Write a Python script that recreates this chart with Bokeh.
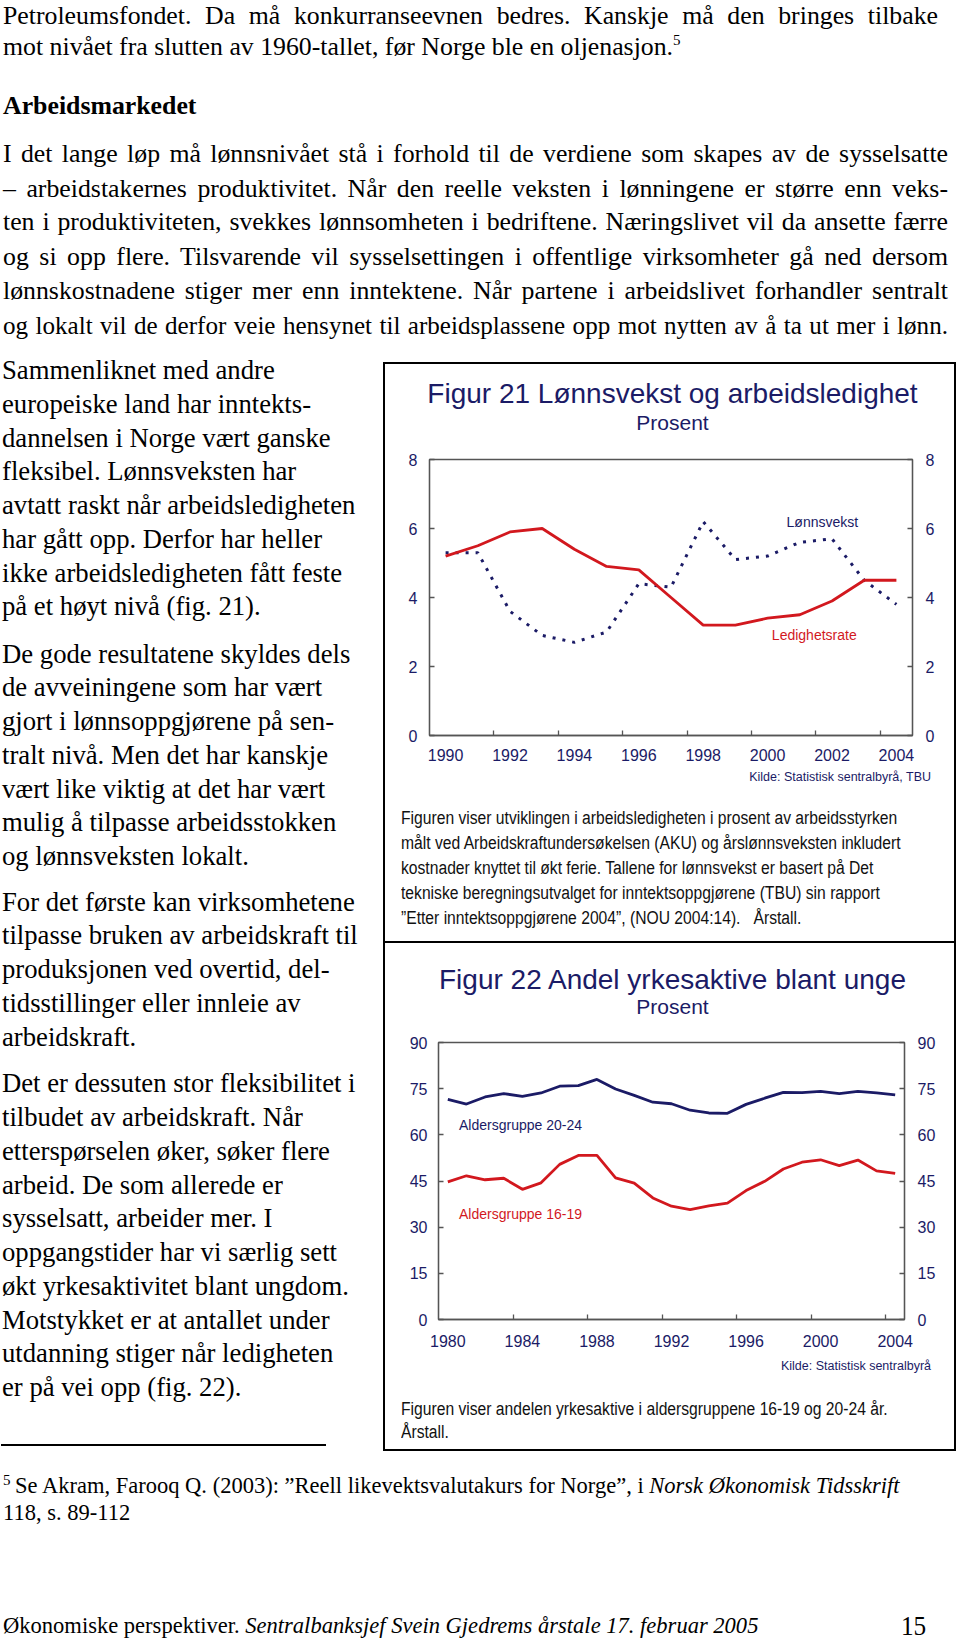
import html
from bokeh.plotting import figure
from bokeh.models import Div, LinearAxis, FixedTicker, Range1d, Label
from bokeh.layouts import column, row
from bokeh.embed import file_html
from bokeh.resources import INLINE

# ---------------- data ----------------
years_fig21 = [1990, 1991, 1992, 1993, 1994, 1995, 1996, 1997, 1998, 1999, 2000, 2001, 2002, 2003, 2004]
ledighetsrate = [5.2, 5.5, 5.9, 6.0, 5.4, 4.9, 4.8, 4.0, 3.2, 3.2, 3.4, 3.5, 3.9, 4.5, 4.5]
lonnsvekst = [5.3, 5.3, 3.6, 2.9, 2.7, 3.0, 4.4, 4.3, 6.2, 5.1, 5.2, 5.6, 5.7, 4.5, 3.8]
xlabels_fig21 = [1990, 1992, 1994, 1996, 1998, 2000, 2002, 2004]
yticks_fig21 = [0, 2, 4, 6, 8]

years_fig22 = [1980, 1981, 1982, 1983, 1984, 1985, 1986, 1987, 1988, 1989, 1990, 1991, 1992,
               1993, 1994, 1995, 1996, 1997, 1998, 1999, 2000, 2001, 2002, 2003, 2004]
aldersgruppe_20_24 = [71.5, 70.0, 72.3, 73.4, 72.5, 73.6, 75.8, 76.0, 78.0, 74.9, 72.8, 70.6, 70.1,
                      68.0, 67.1, 67.0, 69.9, 71.9, 73.8, 73.7, 74.1, 73.4, 74.1, 73.6, 73.0]
aldersgruppe_16_19 = [44.7, 46.7, 45.4, 45.9, 42.3, 44.4, 50.4, 53.3, 53.3, 46.0, 44.3, 39.5, 36.8,
                      35.7, 36.9, 37.8, 41.9, 44.9, 48.9, 51.1, 51.9, 50.0, 51.8, 48.3, 47.5]
xlabels_fig22 = [1980, 1984, 1988, 1992, 1996, 2000, 2004]
yticks_fig22 = [0, 15, 30, 45, 60, 75, 90]

NAVY = "#1b1b66"
RED = "#d2181e"
FRAME = "#555555"
SERIF = "'Liberation Serif', 'Times New Roman', serif"
SANS = "'Liberation Sans', Arial, sans-serif"
INNER = 569   # inner width of the framed chart box


# ---------------- html helpers ----------------
def esc(s):
    return html.escape(s, quote=False)


def line(content, center, size, lh, font=SERIF, left=0, scale=1.0, justify_w=None,
         color="#000", weight="normal", align=None, width=None):
    top = center - lh / 2.0
    st = (f"position:absolute;left:{left}px;top:{top:.1f}px;white-space:nowrap;"
          f"font-family:{font};font-size:{size}px;line-height:{lh}px;color:{color};"
          f"font-weight:{weight};margin:0;padding:0;")
    if scale != 1.0:
        st += f"transform:scaleX({scale});transform-origin:0 0;"
    if justify_w is not None:
        st += f"width:{justify_w / scale:.1f}px;text-align:justify;text-align-last:justify;"
    elif align is not None:
        st += f"width:{width / scale:.1f}px;text-align:{align};"
    return f'<div style="{st}">{content}</div>'


def box(inner, w, h):
    return (f'<div style="position:relative;width:{w}px;height:{h}px;margin:0;padding:0;overflow:hidden;">'
            + "".join(inner) + "</div>")


def mkdiv(inner, w, h):
    return Div(text=box(inner, w, h), width=w, height=h, margin=0)


SUP5 = '<span style="font-size:15px;position:relative;top:-10px;">5</span>'

# ---------------- top text ----------------
TS, TLH = 25.8, 32
top_items = [
    line(esc("Petroleumsfondet. Da må konkurranseevnen bedres. Kanskje må den bringes tilbake"),
         16, TS, TLH, left=3, justify_w=935),
    line(esc("mot nivået fra slutten av 1960-tallet, før Norge ble en oljenasjon.") + SUP5,
         47, TS, TLH, left=3),
    line(esc("Arbeidsmarkedet"), 106, TS, TLH, left=3, weight="bold"),
]
para_top = [
    "I det lange løp må lønnsnivået stå i forhold til de verdiene som skapes av de sysselsatte",
    "– arbeidstakernes produktivitet. Når den reelle veksten i lønningene er større enn veks-",
    "ten i produktiviteten, svekkes lønnsomheten i bedriftene. Næringslivet vil da ansette færre",
    "og si opp flere. Tilsvarende vil sysselsettingen i offentlige virksomheter gå ned dersom",
    "lønnskostnadene stiger mer enn inntektene. Når partene i arbeidslivet forhandler sentralt",
    "og lokalt vil de derfor veie hensynet til arbeidsplassene opp mot nytten av å ta ut mer i lønn.",
]
para_centers = [154, 189, 222, 257, 291, 326]
for i, (t, c) in enumerate(zip(para_top, para_centers)):
    sc = 0.972 if i == len(para_top) - 1 else 1.0
    top_items.append(line(esc(t), c, TS, TLH, left=3, scale=sc, justify_w=945))
top_div = mkdiv(top_items, 958, 345)

# ---------------- left column ----------------
MID_TOP = 345
LS, LLH, STEP = 26.7, 32, 33.75
left_paras = [
    (370.0, ["Sammenliknet med andre", "europeiske land har inntekts-", "dannelsen i Norge vært ganske",
             "fleksibel. Lønnsveksten har", "avtatt raskt når arbeidsledigheten",
             "har gått opp. Derfor har heller", "ikke arbeidsledigheten fått feste",
             "på et høyt nivå (fig. 21)."]),
    (653.5, ["De gode resultatene skyldes dels", "de avveiningene som har vært",
             "gjort i lønnsoppgjørene på sen-", "tralt nivå. Men det har kanskje",
             "vært like viktig at det har vært", "mulig å tilpasse arbeidsstokken",
             "og lønnsveksten lokalt."]),
    (901.5, ["For det første kan virksomhetene", "tilpasse bruken av arbeidskraft til",
             "produksjonen ved overtid, del-", "tidsstillinger eller innleie av", "arbeidskraft."]),
    (1083.3, ["Det er dessuten stor fleksibilitet i", "tilbudet av arbeidskraft. Når",
              "etterspørselen øker, søker flere", "arbeid. De som allerede er",
              "sysselsatt, arbeider mer. I", "oppgangstider har vi særlig sett",
              "økt yrkesaktivitet blant ungdom.", "Motstykket er at antallet under",
              "utdanning stiger når ledigheten", "er på vei opp (fig. 22)."]),
]
left_items = []
for start, lines in left_paras:
    for i, t in enumerate(lines):
        left_items.append(line(esc(t), start + i * STEP - MID_TOP, LS, LLH, left=2))
left_items.append('<div style="position:absolute;left:1px;top:1099px;width:325px;height:1.5px;background:#000;"></div>')
left_div = mkdiv(left_items, 385, 1104)


# ---------------- charts ----------------
def style_axis(ax, standoff):
    ax.axis_line_color = FRAME
    ax.axis_line_width = 1.3
    ax.major_tick_line_color = FRAME
    ax.major_tick_line_width = 1.3
    ax.minor_tick_line_color = FRAME
    ax.minor_tick_line_width = 1.3
    ax.major_label_text_font = "Liberation Sans"
    ax.major_label_text_font_size = "16px"
    ax.major_label_text_color = NAVY
    ax.major_label_standoff = standoff


def make_chart(years, ymax, yticks, xlabels, xstep, h, borders, standoffs):
    bl, br, bt, bb = borders
    p = figure(width=INNER, height=h, output_backend="svg", toolbar_location=None,
               x_range=Range1d(years[0] - 0.5, years[-1] + 0.5), y_range=Range1d(0, ymax),
               min_border_left=bl, min_border_right=br, min_border_top=bt, min_border_bottom=bb,
               background_fill_color="white", border_fill_color="white")
    p.grid.visible = False
    p.outline_line_color = FRAME
    p.outline_line_width = 1.3
    seps = [x + xstep - 0.5 for x in xlabels[:-1]]
    xa = p.xaxis[0]
    xa.ticker = FixedTicker(ticks=xlabels, minor_ticks=seps)
    style_axis(xa, standoffs[0])
    xa.major_tick_in = 0
    xa.major_tick_out = 0
    xa.minor_tick_in = 5
    xa.minor_tick_out = 0
    ya = p.yaxis[0]
    ya.ticker = FixedTicker(ticks=yticks)
    style_axis(ya, standoffs[1])
    ya.major_tick_in = 5
    ya.major_tick_out = 0
    ya.minor_tick_line_color = None
    ra = LinearAxis(ticker=FixedTicker(ticks=yticks))
    style_axis(ra, standoffs[2])
    ra.major_tick_in = 5
    ra.major_tick_out = 0
    ra.minor_tick_line_color = None
    p.add_layout(ra, "right")
    return p


p21 = make_chart(years_fig21, 8, yticks_fig21, xlabels_fig21, 2, 330, (44, 42, 19, 35), (13, 12, 13))
p21.line(years_fig21, lonnsvekst, line_color=NAVY, line_width=3.0, line_dash="3 7")
p21.line(years_fig21, ledighetsrate, line_color=RED, line_width=2.8)
p21.add_layout(Label(x=2001.7, y=6.2, text="Lønnsvekst", text_font="Liberation Sans",
                     text_font_size="14px", text_color=NAVY, text_align="center", text_baseline="middle"))
p21.add_layout(Label(x=2001.45, y=2.9, text="Ledighetsrate", text_font="Liberation Sans",
                     text_font_size="14px", text_color=RED, text_align="center", text_baseline="middle"))

p22 = make_chart(years_fig22, 90, yticks_fig22, xlabels_fig22, 4, 330, (53, 50, 17, 36), (15, 11, 13))
p22.line(years_fig22, aldersgruppe_20_24, line_color=NAVY, line_width=2.8)
p22.line(years_fig22, aldersgruppe_16_19, line_color=RED, line_width=2.8)
p22.add_layout(Label(x=1980.6, y=63.1, text="Aldersgruppe 20-24", text_font="Liberation Sans",
                     text_font_size="14px", text_color=NAVY, text_align="left", text_baseline="middle"))
p22.add_layout(Label(x=1980.6, y=34.2, text="Aldersgruppe 16-19", text_font="Liberation Sans",
                     text_font_size="14px", text_color=RED, text_align="left", text_baseline="middle"))

# ---------------- chart boxes ----------------
CS, CSC, CLH = 18, 0.87, 22


def title_div(title, tc, pc, h):
    return mkdiv([
        line(esc(title), tc, 28, 32, font=SANS, color=NAVY, align="center", width=INNER, left=3),
        line("Prosent", pc, 21, 24, font=SANS, color=NAVY, align="center", width=INNER, left=3),
    ], INNER, h)


def kilde_div(text, c, h):
    return mkdiv([line(esc(text), c, 12.5, 14, font=SANS, color=NAVY, align="right", width=546)], INNER, h)


t21 = title_div("Figur 21 Lønnsvekst og arbeidsledighet", 30, 59, 76)
k21 = kilde_div("Kilde: Statistisk sentralbyrå, TBU", 7, 20)
cap21_lines = [
    "Figuren viser utviklingen i arbeidsledigheten i prosent av arbeidsstyrken",
    "målt ved Arbeidskraftundersøkelsen (AKU) og årslønnsveksten inkludert",
    "kostnader knyttet til økt ferie. Tallene for lønnsvekst er basert på Det",
    "tekniske beregningsutvalget for inntektsoppgjørene (TBU) sin rapport",
    "”Etter inntektsoppgjørene 2004”, (NOU 2004:14).   Årstall.",
]
cap21_items = [line(esc(t).replace("   ", "&nbsp;&nbsp; "), 28 + 25 * i, CS, CLH, font=SANS, left=16,
                    scale=CSC, color="#111")
               for i, t in enumerate(cap21_lines)]
cap21_items.append(f'<div style="position:absolute;left:0;top:151px;width:{INNER}px;height:2px;background:#000;"></div>')
c21 = mkdiv(cap21_items, INNER, 153)

t22 = title_div("Figur 22 Andel yrkesaktive blant unge", 37, 64, 82)
k22 = kilde_div("Kilde: Statistisk sentralbyrå", 10.5, 20)
cap22_lines = [
    "Figuren viser andelen yrkesaktive i aldersgruppene 16-19 og 20-24 år.",
    "Årstall.",
]
c22 = mkdiv([line(esc(t), 33.5 + 23 * i, CS, CLH, font=SANS, left=16, scale=CSC, color="#111")
             for i, t in enumerate(cap22_lines)], INNER, 74)

part1 = row(column(t21, p21, k21, c21, spacing=0), spacing=0)
part2 = row(column(t22, p22, k22, c22, spacing=0), spacing=0)
chart_box = column(part1, part2, spacing=0, styles={"box-shadow": "0 0 0 2px #000"})
spacer = Div(text="", width=INNER, height=19, margin=0)
right_col = column(spacer, chart_box, spacing=0)
mid = row(left_div, right_col, spacing=0)

# ---------------- bottom ----------------
FS = 23
bottom_items = [
    line('<span style="font-size:15px;position:relative;top:-8px;">5</span>', 37, FS, 28, left=3),
    line(esc("Se Akram, Farooq Q. (2003): ”Reell likevektsvalutakurs for Norge”, i ")
         + "<i>" + esc("Norsk Økonomisk Tidsskrift") + "</i>", 37, FS, 28, left=15, scale=0.979),
    line(esc("118, s. 89-112"), 64, FS, 28, left=3, scale=0.979),
    line(esc("Økonomiske perspektiver. ") + "<i>"
         + esc("Sentralbanksjef Svein Gjedrems årstale 17. februar 2005") + "</i>", 177, FS, 28,
         left=3, scale=0.98),
    line("15", 177, 28, 28, left=901, scale=0.9),
]
bottom_div = mkdiv(bottom_items, 958, 192)

page = column(top_div, mid, bottom_div, spacing=0)

open("out.html", "w").write(file_html(page, INLINE))
